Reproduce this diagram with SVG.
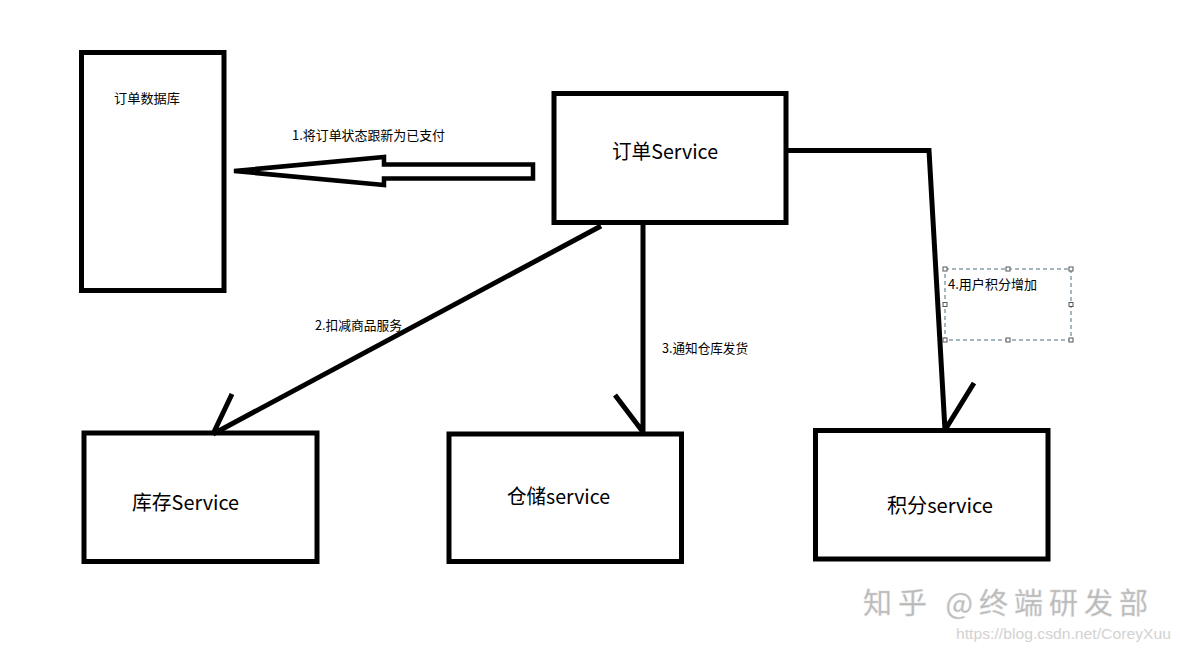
<svg xmlns="http://www.w3.org/2000/svg" width="1180" height="654" viewBox="0 0 1180 654">
<style>
.box{fill:#ffffff;stroke:#000000;stroke-width:5}
.ln{fill:none;stroke:#000000;stroke-width:5;stroke-linejoin:miter;stroke-linecap:butt}
.t{font-family:"Noto Sans CJK SC","Microsoft YaHei",sans-serif;fill:#000000}
.big{font-size:20px}
.sm{font-size:13px}
.h{fill:#ffffff;stroke:#555555;stroke-width:1}
</style>
<rect width="1180" height="654" fill="#ffffff"/>
<g id="db">
<rect class="box" x="81.5" y="52.5" width="142.5" height="238"/>
<text class="t sm" x="114" y="103" textLength="66" lengthAdjust="spacingAndGlyphs">订单数据库</text>
</g>
<g id="order-service">
<rect class="box" x="554" y="93.5" width="232" height="129"/>
<text class="t big" x="612" y="159" textLength="106" lengthAdjust="spacingAndGlyphs">订单Service</text>
</g>
<g id="stock-service">
<rect class="box" x="84" y="433" width="233" height="128.5"/>
<text class="t big" x="132" y="510" textLength="107" lengthAdjust="spacingAndGlyphs">库存Service</text>
</g>
<g id="storage-service">
<rect class="box" x="449" y="434" width="232.5" height="127.5"/>
<text class="t big" x="507" y="504" textLength="103" lengthAdjust="spacingAndGlyphs">仓储service</text>
</g>
<g id="points-service">
<rect class="box" x="815.5" y="430.5" width="232.5" height="128.5"/>
<text class="t big" x="887" y="513" textLength="106" lengthAdjust="spacingAndGlyphs">积分service</text>
</g>
<g id="connectors">
<polygon points="234,171 384,157 384,164.5 533,164.5 533,178.5 384,178.5 384,185" fill="#ffffff" stroke="#000000" stroke-width="4.5" stroke-linejoin="miter"/>
<text class="t sm" x="292" y="140" textLength="153" lengthAdjust="spacingAndGlyphs">1.将订单状态跟新为已支付</text>
<path class="ln" d="M601,226 L213,434 M232,394 L213,434"/>
<text class="t sm" x="315" y="330" textLength="87" lengthAdjust="spacingAndGlyphs">2.扣减商品服务</text>
<path class="ln" d="M643,224 L643,432 M615,395 L643,432"/>
<text class="t sm" x="662" y="353" textLength="86" lengthAdjust="spacingAndGlyphs">3.通知仓库发货</text>
<path class="ln" d="M788,150.5 L929,150.5 L945,430 M974,383 L945,430"/>
</g>
<g id="label-4">
<rect x="945" y="269" width="126" height="71" fill="none" stroke="#4f6f7f" stroke-width="1" stroke-dasharray="4,3"/>
<rect class="h" x="943" y="267" width="4" height="4"/>
<rect class="h" x="1006" y="267" width="4" height="4"/>
<rect class="h" x="1069" y="267" width="4" height="4"/>
<rect class="h" x="943" y="302.5" width="4" height="4"/>
<rect class="h" x="1069" y="302.5" width="4" height="4"/>
<rect class="h" x="943" y="338" width="4" height="4"/>
<rect class="h" x="1006" y="338" width="4" height="4"/>
<rect class="h" x="1069" y="338" width="4" height="4"/>
<text class="t sm" x="948" y="289" textLength="89" lengthAdjust="spacingAndGlyphs">4.用户积分增加</text>
</g>
<g id="watermark">
<text x="863" y="614" font-family="'Noto Sans CJK SC',sans-serif" font-size="29" fill="#b8b8b8" stroke="#d8d8d8" stroke-width="0.5" textLength="285" lengthAdjust="spacing">知乎 @终端研发部</text>
<text x="956" y="639" font-family="'Liberation Sans',Arial,sans-serif" font-size="15" fill="#d2d2d2" textLength="215" lengthAdjust="spacingAndGlyphs">https://blog.csdn.net/CoreyXuu</text>
</g>
</svg>
